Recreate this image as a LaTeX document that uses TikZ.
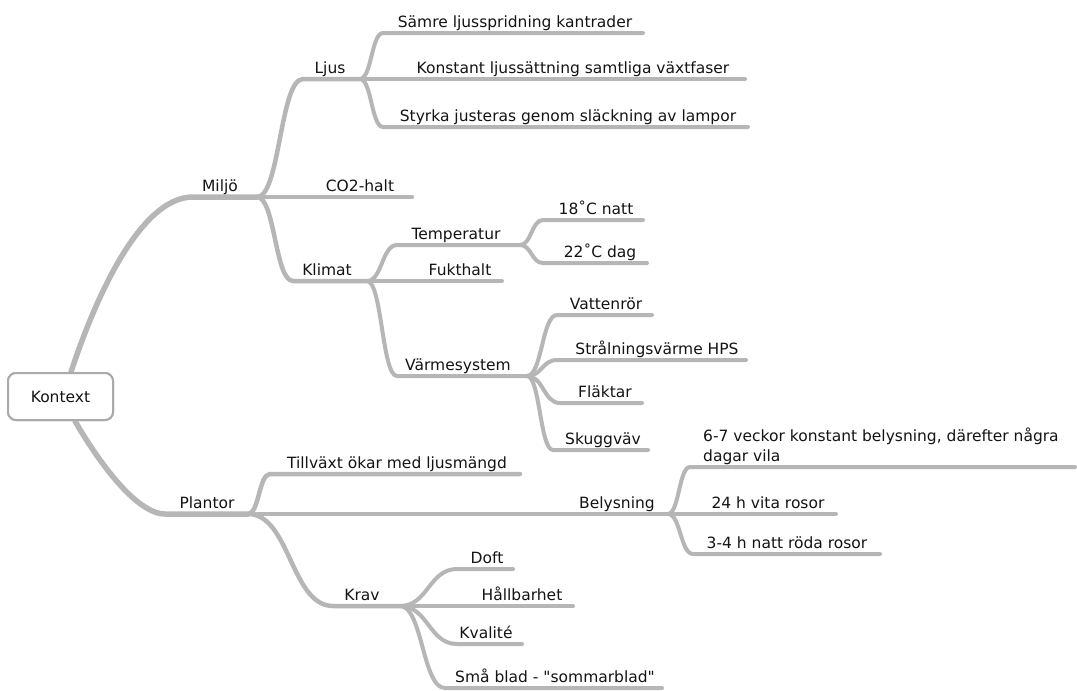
\documentclass[tikz,border=0pt]{standalone}
\usepackage{fontspec}
\setmainfont{DejaVu Sans}[Ligatures=TeXOff]
\definecolor{branchgray}{RGB}{182,182,182}
\definecolor{boxgray}{RGB}{170,170,170}
\definecolor{labelcolor}{RGB}{20,20,20}
\newcommand{\lbfont}{\fontsize{15.5}{20}\selectfont}
\tikzset{
  br/.style={draw=branchgray, line cap=round, line join=round},
  lvone/.style={br, line width=5.5pt},
  lvtwo/.style={br, line width=4.5pt},
  lvthree/.style={br, line width=4pt},
  lbl/.style={anchor=base, inner sep=0pt, font=\lbfont, text=labelcolor},
  rootbox/.style={draw=boxgray, line width=2pt, rounded corners=8pt, fill=white,
    minimum width=105pt, minimum height=47pt, font=\lbfont, text=labelcolor},
}
\begin{document}
\begin{tikzpicture}[x=1pt,y=-1pt]
\useasboundingbox (0,0) rectangle (1077,691);
\fill[white] (0,0) rectangle (1077,691);

% corner (s-) and end/branch (e-) points of every topic line
\coordinate (s-miljo) at (193,197);   \coordinate (e-miljo) at (257,197);
\coordinate (s-plantor) at (165,514); \coordinate (e-plantor) at (248,514);
\coordinate (s-ljus) at (303,79);     \coordinate (e-ljus) at (360,79);
\coordinate (e-co2) at (412,197);
\coordinate (s-klimat) at (293,281);  \coordinate (e-klimat) at (367,281);
\coordinate (s-samre) at (383,33);    \coordinate (e-samre) at (643,33);
\coordinate (e-konstant) at (745,79);
\coordinate (s-styrka) at (383,127);  \coordinate (e-styrka) at (748,127);
\coordinate (s-temp) at (397,245);    \coordinate (e-temp) at (520,245);
\coordinate (e-fukt) at (502,281);
\coordinate (s-varme) at (397,376);   \coordinate (e-varme) at (527,376);
\coordinate (s-natt) at (543,220);    \coordinate (e-natt) at (643,220);
\coordinate (s-dag) at (543,263);     \coordinate (e-dag) at (647,263);
\coordinate (s-vatten) at (557,315);  \coordinate (e-vatten) at (652,315);
\coordinate (s-stral) at (557,360);   \coordinate (e-stral) at (746,360);
\coordinate (s-flakt) at (560,403);   \coordinate (e-flakt) at (642,403);
\coordinate (s-skugg) at (553,450);   \coordinate (e-skugg) at (648,450);
\coordinate (s-tillvaxt) at (270,474); \coordinate (e-tillvaxt) at (520,474);
\coordinate (e-belys) at (668,514);
\coordinate (s-krav) at (333,606);    \coordinate (e-krav) at (400,606);
\coordinate (s-veckor) at (690,467);  \coordinate (e-veckor) at (1075,467);
\coordinate (e-vita) at (836,514);
\coordinate (s-roda) at (693,554);    \coordinate (e-roda) at (880,554);
\coordinate (s-doft) at (457,569);    \coordinate (e-doft) at (513,569);
\coordinate (e-hall) at (573,606);
\coordinate (s-kval) at (457,644);    \coordinate (e-kval) at (522,644);
\coordinate (s-sma) at (445,688);     \coordinate (e-sma) at (662,688);

% root topic (drawn first for its anchors, redrawn on top of the branches)
\node[rootbox] (kontext) at (60.5,396.5) {Kontext};

% main branches out of the root
\draw[lvone] ([xshift=10.5pt]kontext.north) .. controls +(24,-73) and +(-53,0) .. (s-miljo) -- (e-miljo);
\draw[lvone] ([xshift=14.5pt]kontext.south) .. controls +(20,35) and +(-30,0) .. (s-plantor) -- (e-plantor);
\node[rootbox] at (kontext) {Kontext};

% Miljö
\draw[lvtwo] (e-miljo) .. controls +(23,0) and +(-23,0) .. (s-ljus) -- (e-ljus);
\draw[lvtwo] (e-miljo) -- (e-co2);
\draw[lvtwo] (e-miljo) .. controls +(18,0) and +(-18,0) .. (s-klimat) -- (e-klimat);

% Ljus
\draw[lvthree] (e-ljus) .. controls +(11.5,0) and +(-11.5,0) .. (s-samre) -- (e-samre);
\draw[lvthree] (e-ljus) -- (e-konstant);
\draw[lvthree] (e-ljus) .. controls +(11.5,0) and +(-11.5,0) .. (s-styrka) -- (e-styrka);

% Klimat
\draw[lvthree] (e-klimat) .. controls +(15,0) and +(-15,0) .. (s-temp) -- (e-temp);
\draw[lvthree] (e-klimat) -- (e-fukt);
\draw[lvthree] (e-klimat) .. controls +(15,0) and +(-15,0) .. (s-varme) -- (e-varme);

% Temperatur
\draw[lvthree] (e-temp) .. controls +(11.5,0) and +(-11.5,0) .. (s-natt) -- (e-natt);
\draw[lvthree] (e-temp) .. controls +(11.5,0) and +(-11.5,0) .. (s-dag) -- (e-dag);

% Värmesystem
\draw[lvthree] (e-varme) .. controls +(15,0) and +(-15,0) .. (s-vatten) -- (e-vatten);
\draw[lvthree] (e-varme) .. controls +(15,0) and +(-15,0) .. (s-stral) -- (e-stral);
\draw[lvthree] (e-varme) .. controls +(16.5,0) and +(-16.5,0) .. (s-flakt) -- (e-flakt);
\draw[lvthree] (e-varme) .. controls +(13,0) and +(-13,0) .. (s-skugg) -- (e-skugg);

% Plantor
\draw[lvtwo] (e-plantor) .. controls +(11,0) and +(-11,0) .. (s-tillvaxt) -- (e-tillvaxt);
\draw[lvtwo] (e-plantor) -- (e-belys);
\draw[lvtwo] (e-plantor) .. controls +(42,0) and +(-42,0) .. (s-krav) -- (e-krav);

% Belysning
\draw[lvthree] (e-belys) .. controls +(11,0) and +(-11,0) .. (s-veckor) -- (e-veckor);
\draw[lvthree] (e-belys) -- (e-vita);
\draw[lvthree] (e-belys) .. controls +(12.5,0) and +(-12.5,0) .. (s-roda) -- (e-roda);

% Krav
\draw[lvthree] (e-krav) .. controls +(28,0) and +(-28,0) .. (s-doft) -- (e-doft);
\draw[lvthree] (e-krav) -- (e-hall);
\draw[lvthree] (e-krav) .. controls +(28,0) and +(-28,0) .. (s-kval) -- (e-kval);
\draw[lvthree] (e-krav) .. controls +(22.5,0) and +(-22.5,0) .. (s-sma) -- (e-sma);

% labels
\node[lbl] (t-miljo) at (220,191) {Miljö};
\node[lbl] (t-plantor) at (207,508) {Plantor};
\node[lbl] (t-ljus) at (330,73) {Ljus};
\node[lbl] (t-co2) at (360,191) {CO2-halt};
\node[lbl] (t-klimat) at (327,275) {Klimat};
\node[lbl] (t-samre) at (515,27) {Sämre ljusspridning kantrader};
\node[lbl] (t-konstant) at (573,73) {Konstant ljussättning samtliga växtfaser};
\node[lbl] (t-styrka) at (568,121) {Styrka justeras genom släckning av lampor};
\node[lbl] (t-temp) at (456,239) {Temperatur};
\node[lbl] (t-fukt) at (460,275) {Fukthalt};
\node[lbl] (t-varme) at (458,370) {Värmesystem};
\node[lbl] (t-natt) at (596,214) {18˚C natt};
\node[lbl] (t-dag) at (600,257) {22˚C dag};
\node[lbl] (t-vatten) at (606,309) {Vattenrör};
\node[lbl] (t-stral) at (657,354) {Strålningsvärme HPS};
\node[lbl] (t-flakt) at (605,397) {Fläktar};
\node[lbl] (t-skugg) at (603,444) {Skuggväv};
\node[lbl] (t-tillvaxt) at (397,468) {Tillväxt ökar med ljusmängd};
\node[lbl] (t-belys) at (617,508) {Belysning};
\node[lbl] (t-krav) at (362,600) {Krav};
\node[lbl, anchor=base west, align=left] (t-veckor) at (703,461) {6-7 veckor konstant belysning, därefter några\\dagar vila};
\node[lbl] (t-vita) at (768,508) {24 h vita rosor};
\node[lbl] (t-roda) at (787,548) {3-4 h natt röda rosor};
\node[lbl] (t-doft) at (487,563) {Doft};
\node[lbl] (t-hall) at (522,600) {Hållbarhet};
\node[lbl] (t-kval) at (486,638) {Kvalité};
\node[lbl] (t-sma) at (555,682) {Små blad - "sommarblad"};
\end{tikzpicture}
\end{document}
